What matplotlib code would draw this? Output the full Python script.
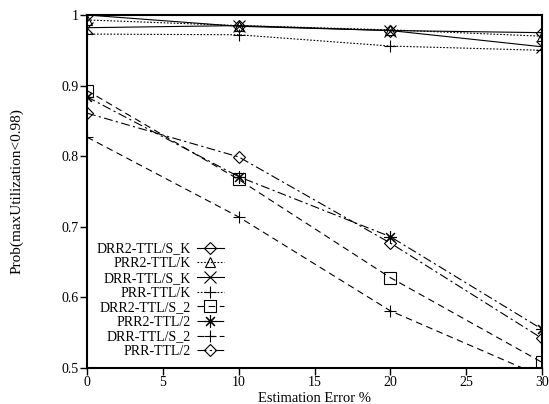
import matplotlib
matplotlib.use("Agg")
import matplotlib.pyplot as plt

x = [0, 10, 20, 30]

labels = ["DRR2-TTL/S_K", "PRR2-TTL/K", "DRR-TTL/S_K", "PRR-TTL/K",
          "DRR2-TTL/S_2", "PRR2-TTL/2", "DRR-TTL/S_2", "PRR-TTL/2"]

drr2_sk = [1.000, 0.984, 0.978, 0.975]
prr2_k = [0.993, 0.985, 0.979, 0.970]
drr_sk = [0.982, 0.985, 0.978, 0.955]
prr_k = [0.973, 0.972, 0.956, 0.950]
drr2_s2 = [0.893, 0.767, 0.628, 0.508]
prr2_2 = [0.884, 0.771, 0.686, 0.555]
drr_s2 = [0.827, 0.714, 0.581, 0.488]
prr_2 = [0.861, 0.799, 0.677, 0.542]

series = [drr2_sk, prr2_k, drr_sk, prr_k, drr2_s2, prr2_2, drr_s2, prr_2]

dotted = (0, (1.5, 1.5))
dashed = (0, (6, 4))
dashdot = (0, (8, 3, 2, 3))
styles = [
    ("D", "-"), ("^", dotted), ("x", "-"), ("+", dotted),
    ("s", dashed), ((8, 2, 0), dashdot), ("+", dashed), ("D", dashdot),
]
msizes = [6, 7, 8, 9, 8, 9, 9, 6]

plt.rcParams['font.family'] = ['Liberation Serif', 'DejaVu Serif']
plt.rcParams['font.size'] = 10

fig = plt.figure(figsize=(5.49, 4.04), dpi=100)
ax = fig.add_axes([87/549, 1-368/404, (542-87)/549, (368-15)/404])

for lab, ys, (m, ls), ms in zip(labels, series, styles, msizes):
    ax.plot(x, ys, color="black", lw=0.8, linestyle=ls, marker=m,
            markersize=ms, markerfacecolor="none", markeredgewidth=0.8,
            label=lab, clip_on=True)

ax.set_xlim(0, 30)
ax.set_ylim(0.5, 1.0)
ax.set_xticks([0, 5, 10, 15, 20, 25, 30])
ax.set_yticks([0.5, 0.6, 0.7, 0.8, 0.9, 1.0])
ax.set_yticklabels(["0.5", "0.6", "0.7", "0.8", "0.9", "1"])
ax.tick_params(direction="out", length=5, width=1, pad=1, labelsize=10)
for s in ax.spines.values():
    s.set_linewidth(1.5)

ax.set_xlabel("Estimation Error %", fontsize=10.5, labelpad=2)
ax.set_ylabel("Prob(maxUtilization<0.98)", fontsize=11, labelpad=27)

leg = ax.legend(loc="lower left", bbox_to_anchor=(0.0, 0.0), frameon=False,
                markerfirst=False, handlelength=2.0, handletextpad=0.4,
                labelspacing=0.12, fontsize=10, borderaxespad=0.3)
for t in leg.get_texts():
    t.set_ha("right")
leg._legend_box.align = "right"

fig.savefig("out.png", dpi=100)
